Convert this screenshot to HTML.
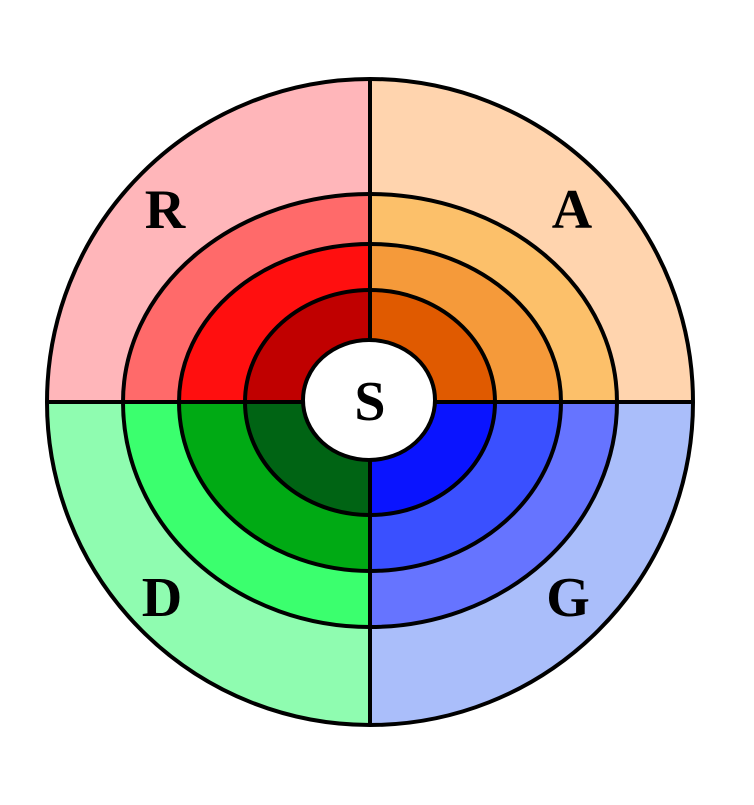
<!DOCTYPE html>
<html><head><style>html,body{margin:0;padding:0;background:#fff}</style></head>
<body>
<svg width="754" height="800" viewBox="0 0 754 800" xmlns="http://www.w3.org/2000/svg">
<g transform="translate(370,402)">
<path d="M0 0 L-323 0 A323 323 0 0 1 0 -323 Z" fill="#FFB6BA"/>
<path d="M0 0 L0 -323 A323 323 0 0 1 323 0 Z" fill="#FFD4AE"/>
<path d="M0 0 L-323 0 A323 323 0 0 0 0 323 Z" fill="#8FFCB0"/>
<path d="M0 0 L0 323 A323 323 0 0 0 323 0 Z" fill="#AABEFA"/>
<path d="M0 0 L-247 0 A247 208 0 0 1 0 -208 Z" fill="#FF6A6A"/>
<path d="M0 0 L0 -208 A247 208 0 0 1 247 0 Z" fill="#FCC06A"/>
<path d="M0 0 L-247 0 A247 225 0 0 0 0 225 Z" fill="#3BFF6E"/>
<path d="M0 0 L0 225 A247 225 0 0 0 247 0 Z" fill="#6674FF"/>
<path d="M0 0 L-191 0 A191 158 0 0 1 0 -158 Z" fill="#FF0F0F"/>
<path d="M0 0 L0 -158 A191 158 0 0 1 191 0 Z" fill="#F59A3A"/>
<path d="M0 0 L-191 0 A191 169 0 0 0 0 169 Z" fill="#00AA14"/>
<path d="M0 0 L0 169 A191 169 0 0 0 191 0 Z" fill="#3A50FF"/>
<path d="M0 0 L-125 0 A125 112 0 0 1 0 -112 Z" fill="#C00000"/>
<path d="M0 0 L0 -112 A125 112 0 0 1 125 0 Z" fill="#E05A00"/>
<path d="M0 0 L-125 0 A125 113 0 0 0 0 113 Z" fill="#006414"/>
<path d="M0 0 L0 113 A125 113 0 0 0 125 0 Z" fill="#0A14FF"/>
<g fill="none" stroke="#000" stroke-width="4">
<path d="M-247 0 A247 208 0 0 1 247 0 A247 225 0 0 1 -247 0"/>
<path d="M-191 0 A191 158 0 0 1 191 0 A191 169 0 0 1 -191 0"/>
<path d="M-125 0 A125 112 0 0 1 125 0 A125 113 0 0 1 -125 0"/>
<line x1="-323" y1="0" x2="323" y2="0"/>
<line x1="0" y1="-323" x2="0" y2="323"/>
<circle r="323"/>
</g>
<ellipse cx="-1" cy="-2" rx="66" ry="60" fill="#fff" stroke="#000" stroke-width="4"/>
<g font-family="'Liberation Serif',serif" font-weight="bold" font-size="56" text-anchor="middle" fill="#000">
<text x="-205" y="-174">R</text>
<text x="202" y="-174">A</text>
<text x="-208" y="214">D</text>
<text x="198" y="214">G</text>
<text x="0" y="18">S</text>
</g>
</g>
</svg>
</body></html>
